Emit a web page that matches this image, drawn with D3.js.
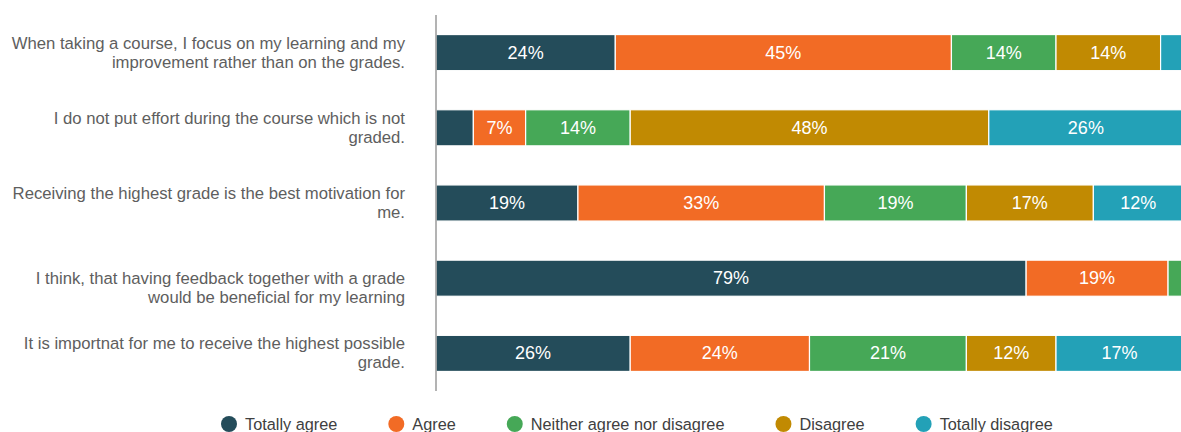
<!DOCTYPE html>
<html>
<head>
<meta charset="utf-8">
<script src="https://cdn.jsdelivr.net/npm/d3@7"></script>
<style>
  body { margin: 0; background: #fff; }
  svg { display: block; font-family: "Liberation Sans", Arial, sans-serif; }
</style>
</head>
<body>
<div id="chart"></div>
<script>
// statements, one array of lines per bar
const statements = [
  ["When taking a course, I focus on my learning and my", "improvement rather than on the grades."],
  ["I do not put effort during the course which is not", "graded."],
  ["Receiving the highest grade is the best motivation for", "me."],
  ["", "I think, that having feedback together with a grade", "would be beneficial for my learning"],
  ["It is importnat for me to receive the highest possible", "grade."]
];

const answers = ["Totally agree", "Agree", "Neither agree nor disagree", "Disagree", "Totally disagree"];

// percentages per answer, in statement order
const totallyAgree    = [24, 5, 19, 79, 26];
const agree           = [45, 7, 33, 19, 24];
const neither         = [14, 14, 19, 2, 21];
const disagree        = [14, 48, 17, 0, 12];
const totallyDisagree = [3, 26, 12, 0, 17];

const colors = ["#244c5a", "#f26b25", "#46a857", "#c18a02", "#23a1b7"];

const width = 1181, height = 432;

const rows = statements.map((s, i) => ({
  idx: i,
  "Totally agree": totallyAgree[i],
  "Agree": agree[i],
  "Neither agree nor disagree": neither[i],
  "Disagree": disagree[i],
  "Totally disagree": totallyDisagree[i]
}));

const svg = d3.select("#chart").append("svg")
  .attr("width", width)
  .attr("height", height);

const x = d3.scaleLinear().domain([0, 100]).range([436, 1183]);
const y = d3.scaleBand().domain(d3.range(statements.length))
  .range([15, 391]).paddingInner(0.52).paddingOuter(0.26);
const color = d3.scaleOrdinal().domain(answers).range(colors);

const stacked = d3.stack().keys(answers)(rows);

const layer = svg.selectAll("g.layer")
  .data(stacked)
  .enter().append("g")
  .attr("class", "layer")
  .attr("fill", d => color(d.key));

layer.selectAll("rect")
  .data(d => d)
  .enter().append("rect")
  .attr("x", d => x(d[0]))
  .attr("y", d => y(d.data.idx))
  .attr("width", d => Math.max(0, x(d[1]) - x(d[0])))
  .attr("height", y.bandwidth())
  .attr("stroke", "#fff")
  .attr("stroke-width", 1.2);

// value labels on segments wide enough
layer.selectAll("text")
  .data(d => d.filter(s => s[1] - s[0] >= 6))
  .enter().append("text")
  .attr("x", d => (x(d[0]) + x(d[1])) / 2)
  .attr("y", d => y(d.data.idx) + y.bandwidth() / 2)
  .attr("text-anchor", "middle")
  .attr("dominant-baseline", "central")
  .attr("fill", "#fff")
  .style("font-size", "18px")
  .text(d => (d[1] - d[0]) + "%");

// axis line
svg.append("line")
  .attr("x1", 436).attr("x2", 436)
  .attr("y1", 15).attr("y2", 391)
  .attr("stroke", "#9a9a9a")
  .attr("stroke-width", 1.5);

// category labels
const lineH = 19;
statements.forEach((lines, i) => {
  const cy = y(i) + y.bandwidth() / 2;
  const t = svg.append("text")
    .attr("text-anchor", "end")
    .attr("fill", "#5e5e5e")
    .style("font-size", "16.7px");
  lines.forEach((ln, j) => {
    t.append("tspan")
      .attr("x", 405)
      .attr("y", cy + (j - (lines.length - 1) / 2) * lineH)
      .attr("dominant-baseline", "central")
      .text(ln);
  });
});

// legend
const legend = svg.append("g").attr("transform", "translate(229,424)");
let lx = 0;
answers.forEach(a => {
  const g = legend.append("g").attr("transform", `translate(${lx},0)`);
  g.append("circle").attr("r", 8).attr("fill", color(a));
  const t = g.append("text")
    .attr("x", 16)
    .attr("dominant-baseline", "central")
    .attr("fill", "#404040")
    .style("font-size", "16.3px")
    .text(a);
  lx += 16 + t.node().getComputedTextLength() + 59;
});
</script>
</body>
</html>
